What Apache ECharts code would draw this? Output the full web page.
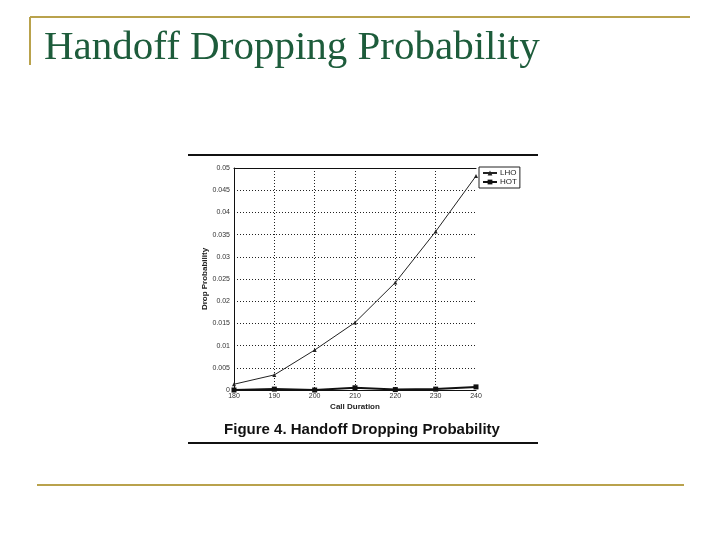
<!DOCTYPE html>
<html>
<head>
<meta charset="utf-8">
<script src="https://cdn.jsdelivr.net/npm/echarts@6/dist/echarts.min.js"></script>
<style>
  html, body { margin: 0; padding: 0; background: #fff; }
  #chart { width: 720px; height: 540px; }
</style>
</head>
<body>
<div id="chart"></div>
<script>
  // call durations (x axis)
  var durations = [180, 190, 200, 210, 220, 230, 240];
  // drop probability
  var lho = [0.0013, 0.0034, 0.0090, 0.0152, 0.0242, 0.0357, 0.0482];
  var hot = [0.0000, 0.0002, 0.0000, 0.0005, 0.0001, 0.0002, 0.0007];

  var gold = '#b9a24c';
  var myChart = echarts.init(document.getElementById('chart'));

  var option = {
    animation: false,
    backgroundColor: '#fff',
    title: {
      text: 'Figure 4. Handoff Dropping Probability',
      left: 357,
      textAlign: 'center',
      top: 417,
      textStyle: { fontFamily: 'Liberation Sans', fontWeight: 'bold', fontSize: 15, color: '#111' }
    },
    legend: {
      orient: 'vertical',
      left: 479,
      top: 167,
      padding: [2, 3, 2, 3],
      itemGap: 1,
      itemWidth: 14,
      itemHeight: 6,
      borderColor: '#222',
      borderWidth: 1,
      textStyle: { fontFamily: 'Liberation Sans', fontSize: 8, color: '#222', padding: [0, 0, 0, -2] },
      data: ['LHO', 'HOT']
    },
    grid: { left: 234, top: 168, width: 242, height: 222 },
    xAxis: [
      {
        type: 'value',
        min: 180, max: 240, interval: 10,
        name: 'Call Duration',
        nameLocation: 'middle',
        nameGap: 13,
        nameTextStyle: { fontFamily: 'Liberation Sans', fontWeight: 'bold', fontSize: 8, color: '#222' },
        axisLine: { lineStyle: { color: '#111' } },
        axisTick: { show: false },
        axisLabel: { fontFamily: 'Liberation Sans', fontSize: 7, color: '#333', margin: 3 },
        splitLine: { showMaxLine: false, lineStyle: { color: '#222', type: [1, 2], width: 1 } }
      },
      {
        // top frame line only
        type: 'value', position: 'top',
        min: 180, max: 240,
        axisLine: { show: true, lineStyle: { color: '#111' } },
        axisTick: { show: false }, axisLabel: { show: false }, splitLine: { show: false }
      }
    ],
    yAxis: {
      type: 'value',
      min: 0, max: 0.05, interval: 0.005,
      name: 'Drop Probability',
      nameLocation: 'middle',
      nameGap: 22,
      nameTextStyle: { fontFamily: 'Liberation Sans', fontWeight: 'bold', fontSize: 8, color: '#222' },
      axisLine: { lineStyle: { color: '#111' } },
      axisTick: { show: false },
      axisLabel: { fontFamily: 'Liberation Sans', fontSize: 7, color: '#333', margin: 4 },
      splitLine: { lineStyle: { color: '#222', type: [1, 2], width: 1 } }
    },
    series: [
      {
        name: 'LHO',
        type: 'line',
        data: durations.map(function (d, i) { return [d, lho[i]]; }),
        symbol: 'triangle',
        symbolSize: 4,
        lineStyle: { color: '#222', width: 1 },
        itemStyle: { color: '#222' }
      },
      {
        name: 'HOT',
        type: 'line',
        data: durations.map(function (d, i) { return [d, hot[i]]; }),
        symbol: 'rect',
        symbolSize: 5,
        lineStyle: { color: '#111', width: 2 },
        itemStyle: { color: '#111' }
      }
    ],
    graphic: [
      // slide frame
      { type: 'line', shape: { x1: 30, y1: 17, x2: 690, y2: 17 }, style: { stroke: gold, lineWidth: 2 } },
      { type: 'line', shape: { x1: 30, y1: 17, x2: 30, y2: 65 }, style: { stroke: gold, lineWidth: 2 } },
      { type: 'line', shape: { x1: 37, y1: 485, x2: 684, y2: 485 }, style: { stroke: gold, lineWidth: 2 } },
      {
        type: 'text', left: 44, top: 28,
        style: { text: 'Handoff Dropping Probability', font: '41px "Liberation Serif", serif', fill: '#1d5c3b' }
      },
      // figure rules
      { type: 'line', shape: { x1: 188, y1: 155, x2: 538, y2: 155 }, style: { stroke: '#111', lineWidth: 2 } },
      { type: 'line', shape: { x1: 188, y1: 443, x2: 538, y2: 443 }, style: { stroke: '#111', lineWidth: 2 } }
    ]
  };
  myChart.setOption(option);
</script>
</body>
</html>
